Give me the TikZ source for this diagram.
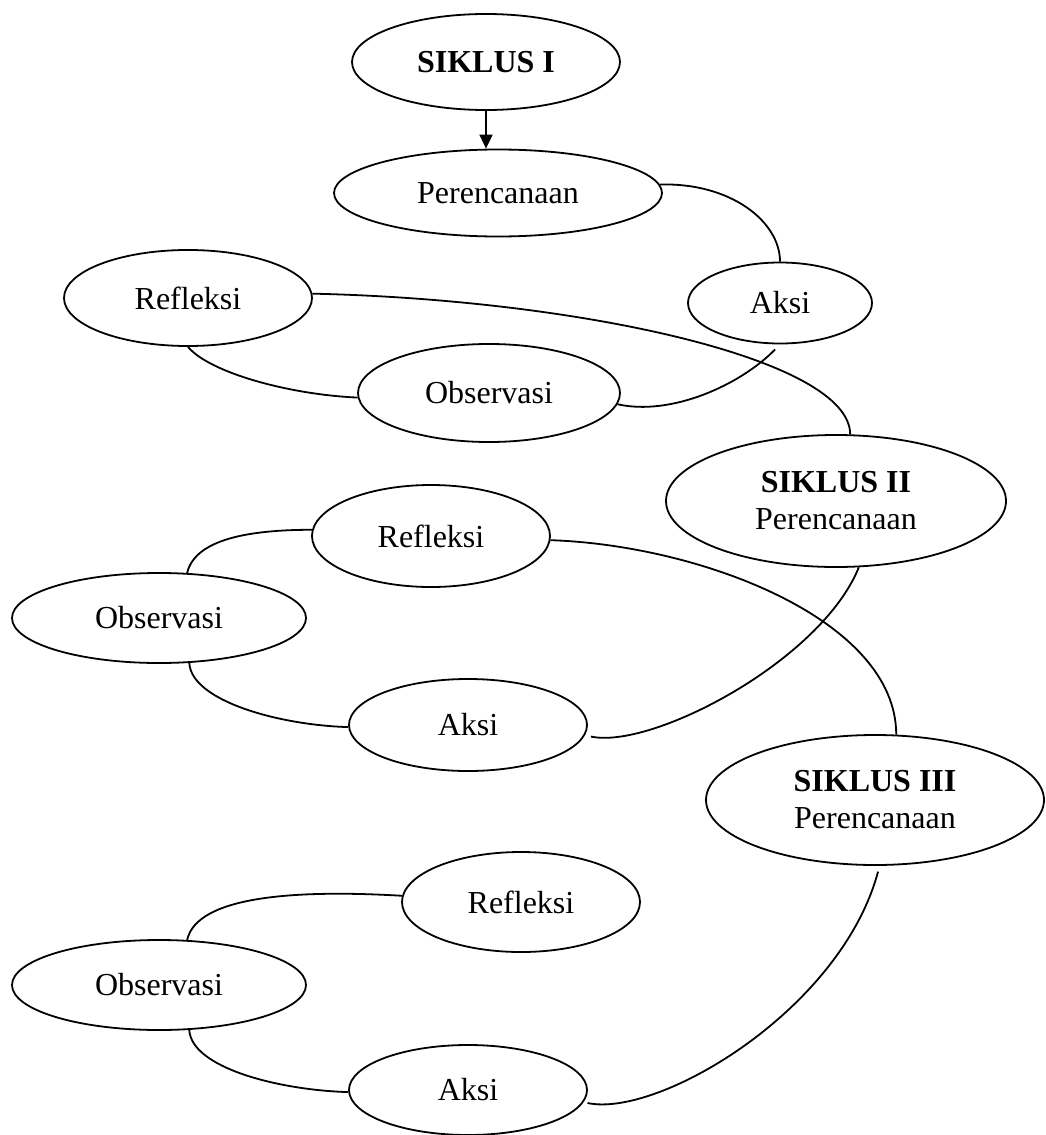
\documentclass[tikz,border=0pt]{standalone}
\usepackage{fontspec}
\setmainfont{Liberation Serif}
\usetikzlibrary{shapes.geometric,arrows.meta}
\begin{document}
\begin{tikzpicture}[x=0.5pt,y=-0.5pt,
  ell/.style={draw,ellipse,line width=0.9pt,inner sep=0pt,align=center,
    font=\fontsize{16}{18.5}\selectfont},
  conn/.style={line width=0.9pt},
  arr/.style={line width=0.9pt,-{Triangle[length=7pt,width=6.5pt]}}]
\useasboundingbox (0,0) rectangle (1045,1135);
% nodes
\node[ell,minimum width=134pt,minimum height=48pt] (s1) at (486,62) {\textbf{SIKLUS I}};
\node[ell,minimum width=164pt,minimum height=43.5pt] (p1) at (498,193) {Perencanaan};
\node[ell,minimum width=92pt,minimum height=40.5pt] (a1) at (780,303) {Aksi};
\node[ell,minimum width=124pt,minimum height=48pt] (r1) at (188,298) {Refleksi};
\node[ell,minimum width=131pt,minimum height=49pt] (o1) at (489,393) {Observasi};
\node[ell,minimum width=170pt,minimum height=66pt] (s2) at (836,501) {\textbf{SIKLUS II}\\Perencanaan};
\node[ell,minimum width=119pt,minimum height=51pt] (r2) at (431,536) {Refleksi};
\node[ell,minimum width=147pt,minimum height=45pt] (o2) at (159,618) {Observasi};
\node[ell,minimum width=119pt,minimum height=46pt] (a2) at (468,725) {Aksi};
\node[ell,minimum width=169pt,minimum height=65pt] (s3) at (875,800) {\textbf{SIKLUS III}\\Perencanaan};
\node[ell,minimum width=119pt,minimum height=50pt] (r3) at (521,902) {Refleksi};
\node[ell,minimum width=147pt,minimum height=45pt] (o3) at (159,985) {Observasi};
\node[ell,minimum width=119pt,minimum height=45pt] (a3) at (468,1090) {Aksi};
% arrow
\draw[arr] (s1.south) -- (s1.south |- p1.north);
% cycle I
\draw[conn] (p1.3) .. controls +(71,-2) and +(0,-40) .. (a1.90);
\draw[conn] (r1.2) .. controls +(268,6) and +(0,-75) .. (s2.78);
\draw[conn] (r1.270) .. controls +(22,26) and +(-68,-3) .. (o1.182);
\draw[conn,shorten >=3.5pt] (o1.355) .. controls +(53,12) and +(-40,41) .. (a1.270);
% cycle II
\draw[conn] (o2.58) .. controls +(8,-34) and +(-62,0) .. (r2.177);
\draw[conn] (r2.358) .. controls +(150,5) and +(0,-115) .. (s3.72);
\draw[conn] (o2.304) .. controls +(2,38) and +(-69,-2) .. (a2.181);
\draw[conn,shorten <=3pt] (a2.355) .. controls +(66,14.5) and +(-38,94) .. (s2.289);
% cycle III
\draw[conn] (o3.58) .. controls +(10,-45) and +(-102,-6) .. (r3.177);
\draw[conn] (o3.304) .. controls +(2,38) and +(-69,-2) .. (a3.181);
\draw[conn,shorten <=2pt,shorten >=3pt] (a3.354) .. controls +(74,16) and +(-39,145) .. (s3.274);
\end{tikzpicture}
\end{document}
